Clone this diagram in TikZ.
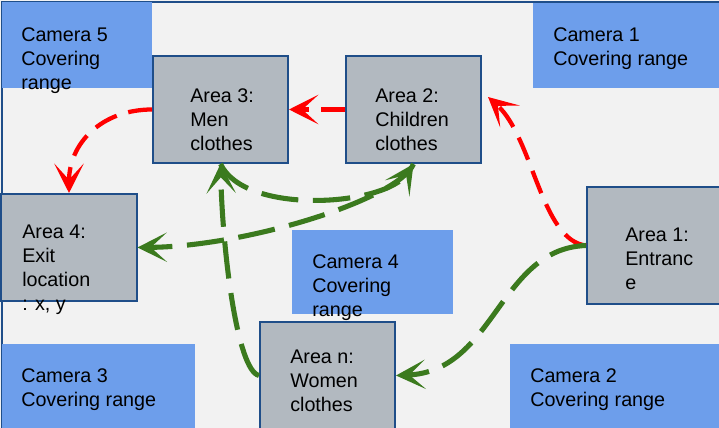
\documentclass[tikz,border=0pt]{standalone}
\usepackage{fontspec}
\setmainfont{Liberation Sans}
\usetikzlibrary{arrows.meta}
\definecolor{camblue}{HTML}{6D9EEB}
\definecolor{floorgray}{HTML}{F2F2F2}
\definecolor{areagray}{HTML}{B2B9C0}
\definecolor{edgeblue}{HTML}{1F4E89}
\definecolor{flowred}{HTML}{FF0000}
\definecolor{flowgreen}{HTML}{3B7A1E}
\tikzset{
  camzone/.style={fill=camblue},
  areabox/.style={draw=edgeblue, line width=1.5pt, fill=areagray, inner sep=0pt,
    minimum width=101.25pt, minimum height=80.25pt},
  txt/.style={anchor=north west, align=left, inner sep=0pt,
    font=\fontsize{14.8}{18}\selectfont},
  redflow/.style={draw=flowred, line width=3.2pt, dash pattern=on 18pt off 9pt,
    -{Stealth[length=22pt,width=22pt,inset=12pt]}},
  greenflow/.style={draw=flowgreen, line width=3.8pt, dash pattern=on 28pt off 11pt,
    -{Stealth[length=22pt,width=22pt,inset=12pt]}}
}
\begin{document}
\begin{tikzpicture}[x=0.75pt, y=-0.75pt]
  \useasboundingbox (0,0) rectangle (719,428);
  \clip (0,0) rectangle (719,428);
  \fill[floorgray] (0,0) rectangle (719,428);
  \draw[edgeblue, line width=1.5pt] (2,2) rectangle (740,450);

  % camera covering ranges
  \fill[camzone] (2,2) rectangle (152,88);
  \fill[camzone] (533,3) rectangle (719,88);
  \fill[camzone] (292,230) rectangle (453,314);
  \fill[camzone] (2,344) rectangle (195,428);
  \fill[camzone] (510,344) rectangle (719,428);
  \node[txt] (cam5) at (21,27) {Camera 5\\Covering\\range};
  \node[txt] (cam1) at (553,27) {Camera 1\\Covering range};
  \node[txt] (cam4) at (312,254) {Camera 4\\Covering\\range};
  \node[txt] (cam3) at (21,368) {Camera 3\\Covering range};
  \node[txt] (cam2) at (530,368) {Camera 2\\Covering range};

  % areas
  \node[areabox] (a3) at (220.5,109.5) {};
  \node[areabox] (a2) at (413.5,109.5) {};
  \node[areabox] (a4) at (69,247.5) {};
  \node[areabox, minimum height=87.75pt] (a1) at (654.5,245.5) {};
  \node[areabox] (an) at (327.5,375.5) {};
  \node[txt] (a3txt) at (190,88) {Area 3:\\Men\\clothes};
  \node[txt] (a2txt) at (375,88) {Area 2:\\Children\\clothes};
  \node[txt] (a4txt) at (22,225) {Area 4:\\Exit\\location\\: x, y};
  \node[txt] (a1txt) at (625,228) {Area 1:\\Entranc\\e};
  \node[txt] (antxt) at (290,350) {Area n:\\Women\\clothes};

  % flows
  \coordinate (r3end) at (488,97);
  \draw[redflow] (a2.west) -- (a3.east);
  \draw[redflow] (a3.west) .. controls +(-50,0) and +(0,-50) .. (a4.north);
  \draw[redflow] (a1.west) .. controls +(-45,-5) and +(45,40) .. (r3end);
  \draw[greenflow] (a1.west) .. controls +(-87,3) and +(99,-4) .. (an.east);
  \draw[greenflow] (an.west) .. controls +(-22,-5) and +(2,87) .. (a3.south);
  \draw[greenflow] (a3.south) .. controls +(25,52) and +(-28,42) .. (a2.south);
  \draw[greenflow] (a2.south) .. controls +(-15,35) and +(110,-1) .. (a4.east);
\end{tikzpicture}
\end{document}
